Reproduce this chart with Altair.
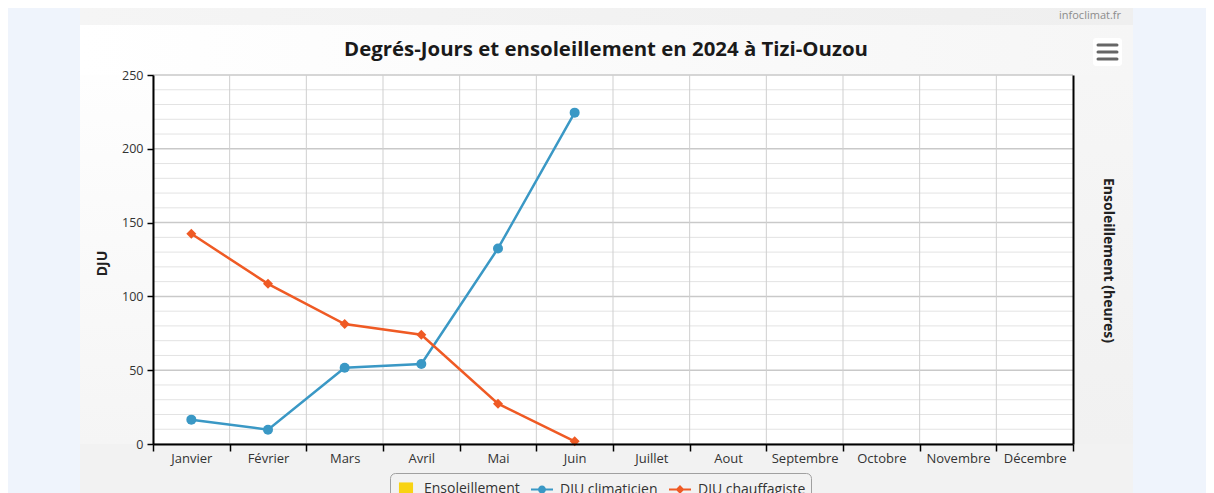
import altair as alt
import pandas as pd

# ---------------- data ----------------
months = ["Janvier", "Février", "Mars", "Avril", "Mai", "Juin", "Juillet",
          "Aout", "Septembre", "Octobre", "Novembre", "Décembre"]
dju_climaticien = [16.5, 9.7, 51.7, 54.2, 132.5, 224.5]
dju_chauffagiste = [142.4, 108.5, 81.3, 74.0, 27.3, 1.8]
ensoleillement = [None] * 12
series_names = ["Ensoleillement", "DJU climaticien", "DJU chauffagiste"]
series_colors = ["#f8d313", "#3a98c5", "#ef5a24"]
y_grid_values = list(range(0, 251, 10))
y_label_values = [0, 50, 100, 150, 200, 250]
title_text = "Degrés-Jours et ensoleillement en 2024 à Tizi-Ouzou"
credit_text = "infoclimat.fr"

FONT = "Open Sans"
W, H = 920, 369

df_clim = pd.DataFrame({"month": months[:len(dju_climaticien)], "value": dju_climaticien})
df_chauff = pd.DataFrame({"month": months[:len(dju_chauffagiste)], "value": dju_chauffagiste})
df_sun = pd.DataFrame({"month": months, "value": ensoleillement})
df_legend = pd.DataFrame({"series": series_names})
df_ygrid = pd.DataFrame({"value": y_grid_values})
df_xgrid = pd.DataFrame({"month": months})
one = pd.DataFrame({"k": [0]})

# legend symbols (custom paths are drawn at sqrt(size)/2 per unit)
legend_paths = [
    "M-0.64,-0.64H0.64V0.64H-0.64Z",
    "M-1,-0.1H1V0.1H-1Z M0.36,0A0.36,0.36 0 1,1 -0.36,0A0.36,0.36 0 1,1 0.36,0Z",
    "M-1,-0.1H1V0.1H-1Z M0,-0.4L0.4,0L0,0.4L-0.4,0Z",
]

# shared scales / axes (identical in every layer so they merge cleanly)
x_scale = alt.Scale(type="band", domain=months, paddingInner=0, paddingOuter=0)
x_axis = alt.Axis(tickBand="extent", labelAngle=0, zindex=1, labelPadding=1,
                  tickSize=7, labelFontSize=13)
y_scale = alt.Scale(domain=[0, 250], nice=False, zero=True)
y_axis = alt.Axis(values=y_label_values, zindex=1, labelPadding=4, labelOverlap=False,
                  title="DJU", titleAngle=-90, titleX=-51, titleY=188,
                  titleAlign="center", titleBaseline="middle")

def X(band=0.5):
    return alt.X("month:N", sort=months, title=None, bandPosition=band,
                 scale=x_scale, axis=x_axis)

def Y():
    return alt.Y("value:Q", scale=y_scale, axis=y_axis)

# ---------------- decorations (page / card) ----------------
def grad(c0, c1, vertical):
    return {"gradient": "linear",
            "stops": [{"offset": 0, "color": c0}, {"offset": 1, "color": c1}],
            "x1": 0, "y1": 0, "x2": 0 if vertical else 1, "y2": 1 if vertical else 0}

def piece(x0, x1, y0, y1, fill):
    return alt.Chart(one).mark_rect(color=fill).encode(
        x=alt.value(x0), x2=alt.value(x1), y=alt.value(y0), y2=alt.value(y1))

page_left = piece(-145, -73, -67, 420, "#eff4fc")
page_right = piece(980, 1060, -67, 420, "#eff4fc")
strip = piece(-73, 980, -67, -50, grad("#f5f5f5", "#efefef", False))
card_top = piece(-73, 980, -50, 0, grad("#ffffff", "#f6f6f6", False))
card_left = piece(-73, 0, 0, H, grad("#fefefe", "#f5f5f5", True))
card_right = piece(W, 980, 0, H, grad("#f6f6f6", "#f1f1f1", True))

credit = alt.Chart(one).mark_text(
    text=credit_text, font=FONT, fontSize=11, color="#8c8c8c", align="right",
    baseline="alphabetic").encode(x=alt.value(968), y=alt.value(-56))

title = alt.Chart(one).mark_text(
    text=title_text, font=FONT, fontSize=20.4, fontWeight="bold", color="#1a1a1a",
    align="center", baseline="alphabetic").encode(x=alt.value(453), y=alt.value(-19))

menu_bg = alt.Chart(one).mark_rect(color="#ffffff", cornerRadius=3).encode(
    x=alt.value(940), x2=alt.value(969), y=alt.value(-37), y2=alt.value(-9))
menu_bars = [
    alt.Chart(one).mark_rule(color="#666666", strokeWidth=3, strokeCap="round").encode(
        x=alt.value(945), x2=alt.value(964), y=alt.value(yy))
    for yy in (-30, -23, -16)
]

# ---------------- data layers ----------------
major = "datum.value % 50 === 0"
ygrid = alt.Chart(df_ygrid).mark_rule().encode(
    y=Y(),
    color=alt.condition(major, alt.value("#c9c9c9"), alt.value("#e3e3e3")),
    strokeWidth=alt.condition(major, alt.value(1.5), alt.value(1)),
)
xgrid = alt.Chart(df_xgrid).mark_rule(color="#cfcfcf", strokeWidth=1).encode(x=X(0))

line_clim = alt.Chart(df_clim).mark_line(strokeWidth=2.5, color=series_colors[1]).encode(x=X(), y=Y())
line_chauff = alt.Chart(df_chauff).mark_line(strokeWidth=2.5, color=series_colors[2]).encode(x=X(), y=Y())
pts_clim = alt.Chart(df_clim).mark_point(
    filled=True, opacity=1, size=100, shape="circle", color=series_colors[1]
).encode(x=X(), y=Y())
pts_chauff = alt.Chart(df_chauff).mark_point(
    filled=True, opacity=1, size=100, shape="diamond", color=series_colors[2]
).encode(x=X(), y=Y())
main = alt.layer(ygrid, xgrid, line_clim, line_chauff, pts_clim, pts_chauff)

sun = alt.Chart(df_sun).mark_bar(color=series_colors[0]).encode(
    x=X(),
    y=alt.Y("value:Q", scale=alt.Scale(domain=[0, 1], nice=False),
            axis=alt.Axis(orient="right", labels=False, ticks=False, grid=False,
                          zindex=1, title="Ensoleillement (heures)",
                          titleAngle=90, titleX=34, titleY=185,
                          titleAlign="center", titleBaseline="middle")),
)

leg = alt.Legend(title=None, orient="none", legendX=237, legendY=398,
                 direction="horizontal", zindex=1, symbolSize=484)
legend_layer = alt.Chart(df_legend).mark_point(filled=True, opacity=0, size=484).encode(
    x=alt.value(0), y=alt.value(0),
    color=alt.Color("series:N", scale=alt.Scale(domain=series_names, range=series_colors),
                    legend=leg),
    shape=alt.Shape("series:N", scale=alt.Scale(domain=series_names, range=legend_paths),
                    legend=leg),
)

chart = alt.layer(
    page_left, page_right, strip, card_top, card_left, card_right, credit, title,
    menu_bg, *menu_bars, main, sun, legend_layer,
).resolve_scale(y="independent").properties(
    width=W, height=H,
    autosize=alt.AutoSizeParams(type="none"),
    padding={"left": 145, "top": 67, "right": 133, "bottom": 49},
    background="#f2f2f2",
).configure_view(
    fill="#ffffff", stroke=None
).configure_axis(
    grid=False, domainColor="#000000", domainWidth=2, tickColor="#000000",
    tickWidth=1.5, tickSize=6, labelFont=FONT, labelFontSize=12.5,
    labelColor="#333333", titleFont=FONT, titleFontSize=14, titleFontWeight="bold",
    titleColor="#222222",
).configure_legend(
    strokeColor="#a0a0a0", cornerRadius=5, padding=5, labelFont=FONT,
    labelFontSize=14, labelColor="#333333", labelOffset=7, columnPadding=11,
    symbolSize=484, symbolOpacity=1, symbolStrokeWidth=0, labelLimit=400,
)

chart.save("out.html", embed_options={"renderer": "svg", "actions": False})
